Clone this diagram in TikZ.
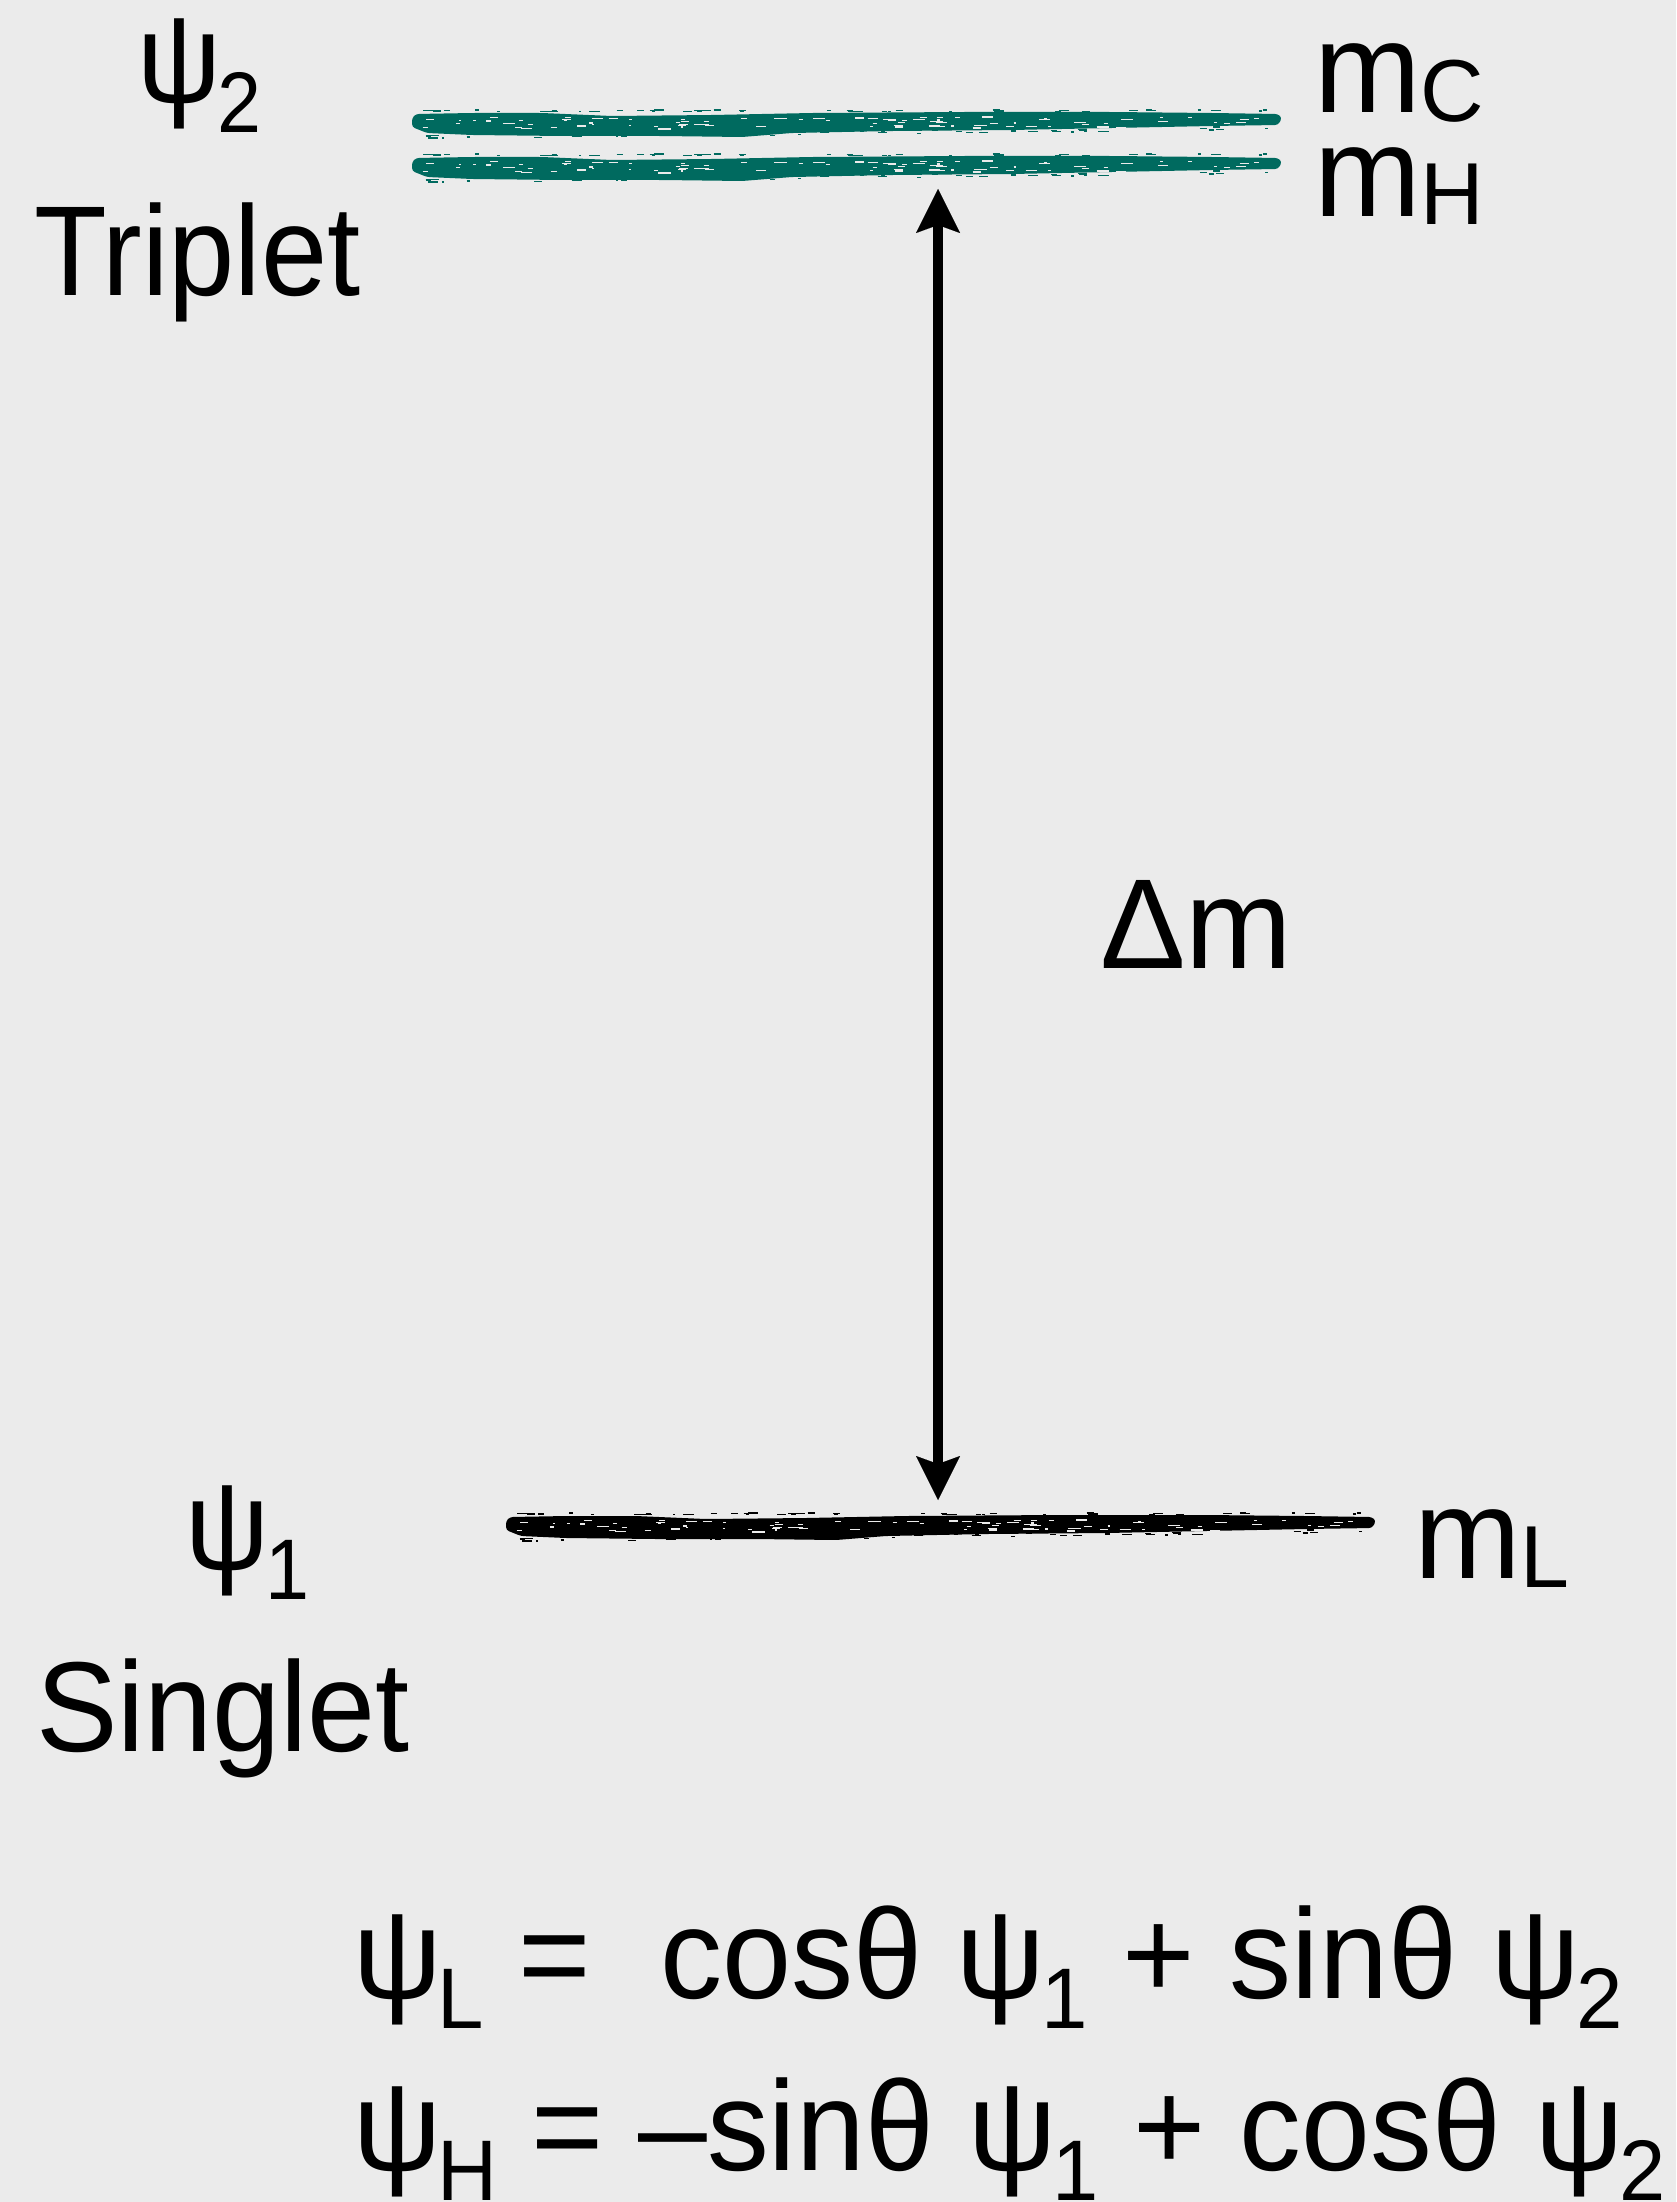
\documentclass[tikz,border=0pt]{standalone}
\usepackage{fontspec}
\setmainfont{Liberation Sans}
\usetikzlibrary{arrows.meta}
\definecolor{bg}{RGB}{235,235,235}
\definecolor{tealbrush}{RGB}{0,106,95}
\newcommand\psub[1]{\kern-4pt\raisebox{-30pt}{\fontsize{86}{86}\selectfont #1}}
\newcommand\msub[1]{\raisebox{-9pt}{\fontsize{88}{88}\selectfont #1}}
\newcommand\brushstroke[3]{%
  \begin{scope}[shift={(#1,#2)}]
    \fill[#3, rounded corners=3pt] (0,5) -- (4,1) -- (60,0) -- (130,0) -- (200,3) -- (300,2)
      -- (400,0) -- (550,-1) -- (700,-1) -- (800,0) -- (866,1) -- (870,5) -- (866,12)
      -- (800,13) -- (700,15) -- (600,17) -- (480,18) -- (380,20) -- (330,24) -- (250,23)
      -- (150,23) -- (60,22) -- (15,20) -- (0,14) -- cycle;
    \pgfmathsetseed{11}
    \foreach \i in {1,...,90}{
      \pgfmathsetmacro\xa{10+rnd*840}
      \pgfmathsetmacro\ya{4+rnd*12}
      \pgfmathsetmacro\la{2+rnd*11}
      \pgfmathsetmacro\wa{0.6+rnd*1.2}
      \draw[bg, line width=\wa pt] (\xa,\ya) -- ++(\la,0);
    }
    \foreach \i in {1,...,45}{
      \pgfmathsetmacro\xa{rnd*860}
      \pgfmathsetmacro\ya{-1.5-rnd*1.5}
      \pgfmathsetmacro\la{2+rnd*9}
      \draw[#3, line width=1.3pt] (\xa,\ya) -- ++(\la,0);
    }
    \foreach \i in {1,...,45}{
      \pgfmathsetmacro\xa{rnd*860}
      \pgfmathsetmacro\ya{22-9*\xa/866+rnd*4}
      \pgfmathsetmacro\la{2+rnd*9}
      \draw[#3, line width=1.3pt] (\xa,\ya) -- ++(\la,0);
    }
  \end{scope}}
\begin{document}
\begin{tikzpicture}[x=1pt,y=-1pt,
  lbl/.style={anchor=base west, inner sep=0pt, font=\fontsize{128}{128}\selectfont},
  >={Stealth[length=44pt,width=44pt,inset=8pt,line width=0.01pt]}]
\fill[bg] (0,0) rectangle (1676,2202);
\useasboundingbox (0,0) rectangle (1676,2202);

\brushstroke{412}{113}{tealbrush}
\brushstroke{412}{157}{tealbrush}
\brushstroke{506}{1516}{black}

\coordinate (top) at (938,189);
\coordinate (bot) at (938,1500);
\draw[line width=10pt, <->] (bot) -- (top);

\node[lbl] (psi2) at (137,103) {\scalebox{0.92}[1]{ψ\psub{2}}};
\node[lbl] (trip) at (34,295) {\scalebox{0.93}[1]{Triplet}};
\node[lbl] (mc) at (1314,113) {m\msub{C}};
\node[lbl] (mh) at (1314,216) {m\msub{H}};
\node[lbl] (dm) at (1100,968) {Δm};
\node[lbl] (psi1) at (185,1569) {\scalebox{0.92}[1]{ψ\psub{1}}};
\node[lbl] (sing) at (36,1751) {\scalebox{0.955}[1]{Singlet}};
\node[lbl] (ml) at (1414,1578) {m\msub{L}};
\node[lbl] (eq1) at (353,1998) {\scalebox{0.970}[1]{ψ\psub{L} =\ \ cosθ ψ\psub{1} + sinθ ψ\psub{2}}};
\node[lbl] (eq2) at (353,2170) {\scalebox{0.966}[1]{ψ\psub{H} = \textendash sinθ ψ\psub{1} + cosθ ψ\psub{2}}};
\end{tikzpicture}
\end{document}
